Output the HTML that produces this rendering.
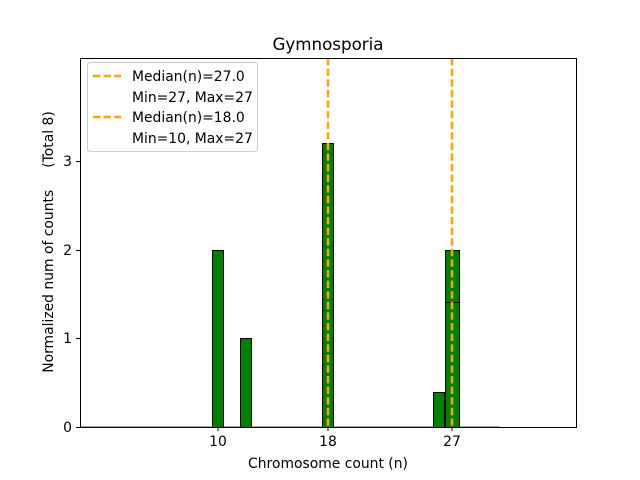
<!DOCTYPE html>
<html><head><style>body{margin:0;background:#fff}svg{display:block}</style></head><body>
<svg width="640" height="480" xmlns="http://www.w3.org/2000/svg" font-family="DejaVu Sans, Liberation Sans, sans-serif" font-size="13.9">
<rect width="640" height="480" fill="#fff"/>
<g stroke="#000" stroke-width="1" fill="#008000">
<rect x="212.5" y="250.5" width="11" height="177"/>
<rect x="240.5" y="338.5" width="11" height="89"/>
<rect x="322.5" y="143.5" width="11" height="284"/>
<rect x="433.5" y="392.5" width="11" height="35"/>
<rect x="445.5" y="250.5" width="14" height="177"/>
<line x1="445.5" y1="302.5" x2="459.5" y2="302.5"/>
</g>
<line x1="80" y1="427" x2="500" y2="427" stroke="#555" stroke-width="1"/>
<line x1="328" y1="58" x2="328" y2="427" stroke="#FFA500" stroke-width="2.5" stroke-dasharray="7.4,3.2"/>
<line x1="452" y1="58" x2="452" y2="427" stroke="#FFA500" stroke-width="2.5" stroke-dasharray="7.4,3.2"/>
<rect x="80.5" y="58.5" width="496" height="369" fill="none" stroke="#000"/>
<g stroke="#000">
<line x1="218" y1="427" x2="218" y2="431"/><line x1="328" y1="427" x2="328" y2="431"/><line x1="452" y1="427" x2="452" y2="431"/>
<line x1="76" y1="427.5" x2="80" y2="427.5"/><line x1="76" y1="338.5" x2="80" y2="338.5"/><line x1="76" y1="250.5" x2="80" y2="250.5"/><line x1="76" y1="161.5" x2="80" y2="161.5"/>
</g>
<g text-anchor="middle">
<text x="218" y="446">10</text><text x="328" y="446">18</text><text x="452" y="446">27</text>
<text x="328" y="468">Chromosome count (n)</text>
<text x="328" y="50" font-size="16.7">Gymnosporia</text>
</g>
<g text-anchor="end">
<text x="72" y="432">0</text><text x="72" y="343">1</text><text x="72" y="255">2</text><text x="72" y="166">3</text>
</g>
<text transform="translate(53,242) rotate(-90)" text-anchor="middle" style="white-space:pre" xml:space="preserve">Normalized num of counts     (Total 8)</text>
<rect x="87.5" y="62.5" width="170" height="89" rx="3" fill="#fff" stroke="#ccc"/>
<g stroke="#FFA500" stroke-width="2.5" stroke-dasharray="7.4,3.2">
<line x1="93" y1="76" x2="121" y2="76"/><line x1="93" y1="117" x2="121" y2="117"/>
</g>
<text x="132" y="81">Median(n)=27.0</text>
<text x="132" y="102">Min=27, Max=27</text>
<text x="132" y="122">Median(n)=18.0</text>
<text x="132" y="143">Min=10, Max=27</text>
</svg>
</body></html>
